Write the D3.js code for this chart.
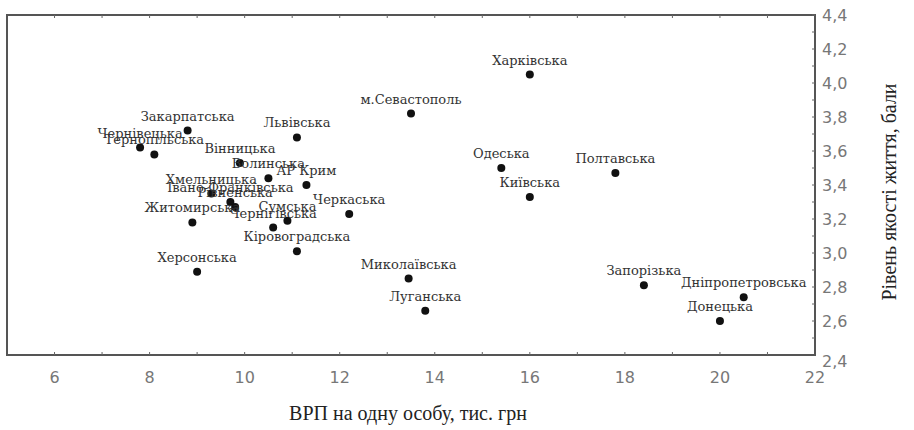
<html>
  <head>
    <meta charset="utf-8">
    <title>ВРП та якість життя</title>
    <style>
      body { margin: 0; background: #fff; }
      .tick-label { font: 16px "DejaVu Sans", sans-serif; fill: #777; }
      .title { font: 20px "Liberation Serif", serif; fill: #222; }
      .point-label { font: 13px "DejaVu Serif", serif; fill: #333; text-anchor: middle; }
    </style>
  </head>
  <body>
    <svg id="chart" width="914" height="430"></svg>
    <script src="https://cdn.jsdelivr.net/npm/d3@7"></script>
    <script>
// regions, GDP per person (thousand UAH) and quality-of-life score
var regions = ["Харківська", "м.Севастополь", "Закарпатська", "Львівська", "Чернівецька",
  "Тернопільська", "Вінницька", "Волинська", "АР Крим", "Хмельницька",
  "Івано-Франківська", "Рівненська", "Житомирська", "Сумська", "Чернігівська",
  "Черкаська", "Кіровоградська", "Херсонська", "Миколаївська", "Луганська",
  "Одеська", "Київська", "Полтавська", "Запорізька", "Дніпропетровська", "Донецька"];
var gdp = [16.0, 13.5, 8.8, 11.1, 7.8,
  8.1, 9.9, 10.5, 11.3, 9.3,
  9.7, 9.8, 8.9, 10.9, 10.6,
  12.2, 11.1, 9.0, 13.45, 13.8,
  15.4, 16.0, 17.8, 18.4, 20.5, 20.0];
var quality = [4.05, 3.82, 3.72, 3.68, 3.62,
  3.58, 3.53, 3.44, 3.40, 3.35,
  3.30, 3.27, 3.18, 3.19, 3.15,
  3.23, 3.01, 2.89, 2.85, 2.66,
  3.50, 3.33, 3.47, 2.81, 2.74, 2.60];

var xTicks = [6, 8, 10, 12, 14, 16, 18, 20, 22];
var yTicks = [2.4, 2.6, 2.8, 3.0, 3.2, 3.4, 3.6, 3.8, 4.0, 4.2, 4.4];
var xTitle = "ВРП на одну особу, тис. грн";
var yTitle = "Рівень якості життя, бали";

// plot frame (window.top is reserved, hence the prefixed names)
var pLeft = 7, pRight = 815, pTop = 15, pBottom = 355;

var x = d3.scaleLinear().domain([5, 22]).range([pLeft, pRight]);
var y = d3.scaleLinear().domain([2.4, 4.4]).range([pBottom, pTop]);
var fmt = v => d3.format(".1f")(v).replace(".", ",");

var svg = d3.select("#chart");

svg.append("rect")
    .attr("x", pLeft).attr("y", pTop)
    .attr("width", pRight - pLeft).attr("height", pBottom - pTop)
    .attr("fill", "none").attr("stroke", "#555").attr("stroke-width", 2);

// small ticks, inside the frame
var xMinor = d3.range(6, 22, 1);
svg.append("g").selectAll("line").data(xMinor).enter().append("line")
    .attr("x1", d => x(d)).attr("x2", d => x(d))
    .attr("y1", pBottom).attr("y2", pBottom - 3)
    .attr("stroke", "#666");
svg.append("g").selectAll("line").data(xMinor).enter().append("line")
    .attr("x1", d => x(d)).attr("x2", d => x(d))
    .attr("y1", pTop).attr("y2", pTop + 3)
    .attr("stroke", "#666");
svg.append("g").selectAll("line").data(d3.range(2.5, 4.4, 0.1)).enter().append("line")
    .attr("x1", pRight).attr("x2", pRight - 3)
    .attr("y1", d => y(d)).attr("y2", d => y(d))
    .attr("stroke", "#666");

// tick labels
svg.append("g").selectAll("text").data(xTicks).enter().append("text")
    .attr("class", "tick-label")
    .attr("x", d => x(d)).attr("y", pBottom + 28)
    .attr("text-anchor", "middle")
    .text(d => d);
svg.append("g").selectAll("text").data(yTicks).enter().append("text")
    .attr("class", "tick-label")
    .attr("x", pRight + 7)
    .attr("y", d => y(d) + (d === 2.4 ? 12 : 6))
    .text(fmt);

// axis titles
svg.append("text").attr("class", "title")
    .attr("x", 408).attr("y", 420)
    .attr("text-anchor", "middle")
    .text(xTitle);
svg.append("text").attr("class", "title")
    .attr("transform", "translate(896,192) rotate(-90)")
    .attr("text-anchor", "middle")
    .text(yTitle);

var pts = regions.map((r, i) => ({ name: r, gdp: gdp[i], q: quality[i] }));

svg.append("g").selectAll("circle").data(pts).enter().append("circle")
    .attr("cx", d => x(d.gdp)).attr("cy", d => y(d.q))
    .attr("r", 4).attr("fill", "#111");

svg.append("g").selectAll("text").data(pts).enter().append("text")
    .attr("class", "point-label")
    .attr("x", d => x(d.gdp)).attr("y", d => y(d.q) - 10)
    .text(d => d.name);
    </script>
  </body>
</html>
